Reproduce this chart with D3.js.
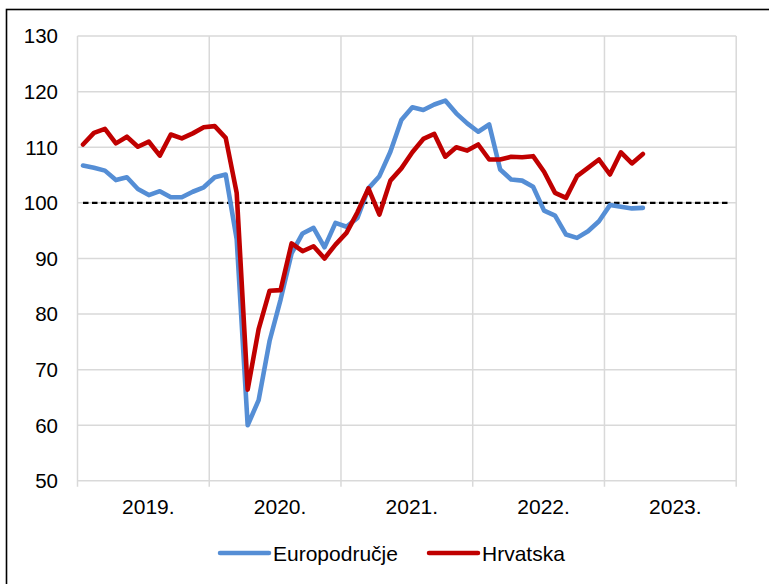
<!DOCTYPE html>
<html>
<head>
<meta charset="utf-8">
<script src="https://cdn.jsdelivr.net/npm/d3@7"></script>
<style>
  body { margin: 0; background: #fff; }
  text { font-family: "Liberation Sans", Arial, sans-serif; fill: #000; }
</style>
</head>
<body>
<svg id="chart" width="769" height="584"></svg>
<script>
// monthly index values, Jan 2019 - Apr 2023
var years = ["2019.", "2020.", "2021.", "2022.", "2023."];
var yTicks = [50, 60, 70, 80, 90, 100, 110, 120, 130];

var euro = [
  106.7, 106.3, 105.8, 104.1, 104.6, 102.5, 101.4, 102.1, 101.0, 101.0, 102.0, 102.8,
  104.6, 105.1, 93.5, 60.0, 64.5, 75.2, 82.6, 90.9, 94.5, 95.5, 92.0, 96.4,
  95.7, 97.3, 102.6, 104.8, 109.2, 114.9, 117.2, 116.7, 117.7, 118.4, 116.1, 114.3,
  112.8, 114.1, 106.0, 104.2, 104.0, 102.9, 98.6, 97.7, 94.3, 93.7, 94.9, 96.7,
  99.6, 99.3, 99.0, 99.1
];
var hrv = [
  110.5, 112.6, 113.3, 110.7, 111.9, 110.1, 111.0, 108.5, 112.3, 111.6, 112.5, 113.6,
  113.8, 111.7, 101.8, 66.4, 77.3, 84.2, 84.3, 92.7, 91.3, 92.2, 90.0, 92.5,
  94.6, 98.3, 102.6, 97.9, 104.0, 106.2, 109.1, 111.5, 112.4, 108.3, 110.0, 109.4,
  110.5, 107.8, 107.8, 108.3, 108.2, 108.4, 105.6, 101.8, 100.9, 104.8, 106.3, 107.8,
  105.1, 109.1, 107.1, 108.8
];

var months = d3.range(60); // Jan 2019 .. Dec 2023
var baseline = months.map(function(){ return 100; });

var svg = d3.select("#chart");

// outer frame
svg.append("rect")
  .attr("x", 6.5).attr("y", 9.5)
  .attr("width", 770).attr("height", 580)
  .attr("fill", "none")
  .attr("stroke", "#000")
  .attr("stroke-width", 1.6);

var x = d3.scaleBand().domain(months).range([77.5, 736.2]);
var y = d3.scaleLinear().domain([50, 130]).range([480.8, 36.1]);

var xc = function(i){ return x(i) + x.bandwidth() / 2; };

// horizontal grid
svg.append("g").selectAll("line")
  .data(yTicks)
  .join("line")
  .attr("x1", x.range()[0]).attr("x2", x.range()[1])
  .attr("y1", function(d){ return y(d); })
  .attr("y2", function(d){ return y(d); })
  .attr("stroke", "#d9d9d9")
  .attr("stroke-width", 1.5);

// vertical year lines (extend below axis as tick marks)
var yearEdges = d3.range(years.length + 1).map(function(k){
  return k < years.length ? x(k * 12) : x.range()[1];
});
svg.append("g").selectAll("line")
  .data(yearEdges)
  .join("line")
  .attr("x1", function(d){ return d; })
  .attr("x2", function(d){ return d; })
  .attr("y1", y(130)).attr("y2", y(50) + 6)
  .attr("stroke", "#d9d9d9")
  .attr("stroke-width", 1.5);

// y labels
svg.append("g").selectAll("text")
  .data(yTicks)
  .join("text")
  .attr("x", 58)
  .attr("y", function(d){ return y(d); })
  .attr("dy", "0.36em")
  .attr("text-anchor", "end")
  .style("font-size", "20.5px")
  .text(function(d){ return d; });

// year labels
svg.append("g").selectAll("text")
  .data(years)
  .join("text")
  .attr("x", function(d, k){ return (yearEdges[k] + yearEdges[k + 1]) / 2 + 5; })
  .attr("y", 514)
  .attr("text-anchor", "middle")
  .style("font-size", "21px")
  .text(function(d){ return d; });

var line = d3.line()
  .x(function(d, i){ return xc(i); })
  .y(function(d){ return y(d); });

// reference level 100
svg.append("path")
  .datum(baseline)
  .attr("d", line)
  .attr("fill", "none")
  .attr("stroke", "#000")
  .attr("stroke-width", 2.3)
  .attr("stroke-dasharray", "5.5,3.5");

svg.append("path")
  .datum(euro)
  .attr("d", line)
  .attr("fill", "none")
  .attr("stroke", "#558ed5")
  .attr("stroke-width", 4.6)
  .attr("stroke-linejoin", "round")
  .attr("stroke-linecap", "round");

svg.append("path")
  .datum(hrv)
  .attr("d", line)
  .attr("fill", "none")
  .attr("stroke", "#c00000")
  .attr("stroke-width", 4.6)
  .attr("stroke-linejoin", "round")
  .attr("stroke-linecap", "round");

// legend
var legend = [
  { name: "Europodručje", color: "#558ed5", x: 220 },
  { name: "Hrvatska", color: "#c00000", x: 429 }
];
var lg = svg.append("g").selectAll("g")
  .data(legend)
  .join("g");
lg.append("line")
  .attr("x1", function(d){ return d.x; })
  .attr("x2", function(d){ return d.x + 49; })
  .attr("y1", 553).attr("y2", 553)
  .attr("stroke", function(d){ return d.color; })
  .attr("stroke-width", 4.5)
  .attr("stroke-linecap", "round");
lg.append("text")
  .attr("x", function(d){ return d.x + 53; })
  .attr("y", 560.5)
  .style("font-size", "21px")
  .text(function(d){ return d.name; });
</script>
</body>
</html>
